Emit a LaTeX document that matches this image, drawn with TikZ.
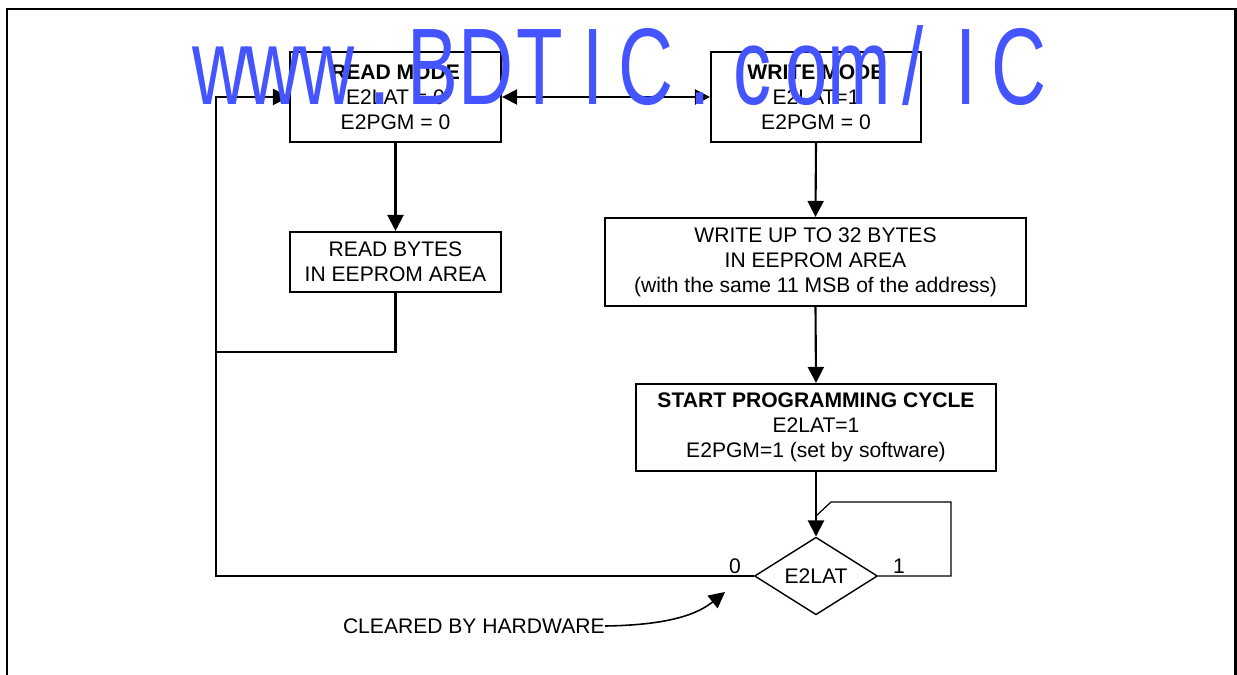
\documentclass[tikz,border=0pt]{standalone}
\usepackage{fontspec}
\setmainfont{Liberation Sans}
\usepackage{graphicx}
\usepackage{xcolor}
\usetikzlibrary{shapes.geometric,arrows.meta,positioning,calc}
\definecolor{markblue}{RGB}{68,84,255}

\begin{document}
\begin{tikzpicture}[x=0.02cm, y=-0.02cm,
    box/.style={draw, line width=1.2pt, align=center, inner sep=0pt, font=\fontsize{12}{14.2}\selectfont},
    decision/.style={draw, diamond, line width=0.8pt, inner sep=0pt, minimum width=2.46cm, minimum height=1.12cm, font=\fontsize{12}{14.2}\selectfont},
    lbl/.style={inner sep=0pt, font=\fontsize{12}{14.2}\selectfont},
    flow/.style={line width=1.2pt},
    arr/.style={-{Triangle[length=0.32cm,width=0.32cm]}},
    dblarr/.style={{Triangle[length=0.3cm,width=0.3cm]}-{Triangle[length=0.3cm,width=0.3cm]}}]
    \useasboundingbox (0,0) rectangle (1237,675);

    % Page frame (open at the bottom)
    \draw[line width=1.7pt] (7,675) -- (7,9) -- (1235,9) -- (1235,675);

    % Read side
    \node[box, minimum width=4.22cm, minimum height=1.8cm] (readmode) at (395.5,97) {\textbf{READ MODE}\\E2LAT = 0\\E2PGM = 0};
    \node[box, minimum width=4.22cm, minimum height=1.2cm] (readbytes) at (395.5,262) {READ BYTES\\IN EEPROM AREA};

    % Write side
    \node[box, minimum width=4.2cm, minimum height=1.8cm] (writemode) at (816,97) {\textbf{WRITE MODE}\\E2LAT=1\\E2PGM = 0};
    \node[box, minimum width=8.42cm, minimum height=1.76cm] (writebytes) at (815.5,262) {WRITE UP TO 32 BYTES\\IN EEPROM AREA\\(with the same 11 MSB of the address)};
    \node[box, minimum width=7.2cm, minimum height=1.74cm] (startprog) at (816,427.5) {\textbf{START PROGRAMMING CYCLE}\\E2LAT=1\\E2PGM=1 (set by software)};

    % Test of E2LAT
    \node[decision] (latdec) at (816,576) {E2LAT};
    \node[lbl] (zero) at (735,566) {0};
    \node[lbl] (one) at (899,566) {1};

    % Connectors
    \draw[flow, dblarr] (readmode.east) -- (writemode.west);
    \draw[flow, arr] (readmode.south) -- (readbytes.north);
    \draw[flow, arr] (writemode.south) -- (writebytes.north);
    \draw[flow, arr] (writebytes.south) -- (startprog.north);
    \draw[flow, arr] (startprog.south) -- (latdec.north);

    % Way back to read mode
    \coordinate (railtop) at (216,97);
    \coordinate (railjoin) at (216,352);
    \draw[flow, arr] (latdec.west) -| (railtop) -- (readmode.west);
    \draw[flow] (readbytes.south) |- (railjoin);

    % Wait while E2LAT = 1
    \coordinate (loopjoin) at (816,516);
    \draw[line width=0.7pt] (latdec.east) -| (951,502) -- (831,502) -- (loopjoin);

    % Note
    \node[lbl, anchor=east] (cleared) at (605,626) {CLEARED BY HARDWARE};
    \draw[line width=0.9pt, arr] (cleared.east) .. controls (675,625) and (700,612) .. (725,592);

    % Watermark over the drawing
    \foreach \ch [count=\i from 0] in {w,w,w,.,B,D,T,I,C,.,c,o,m,/,I,C}
      \node[markblue, anchor=base, inner sep=0pt, font=\fontsize{62}{62}\selectfont] (wm\i) at (220+53.3*\i,105) {\scalebox{0.7}[1]{\ch}};
\end{tikzpicture}
\end{document}
